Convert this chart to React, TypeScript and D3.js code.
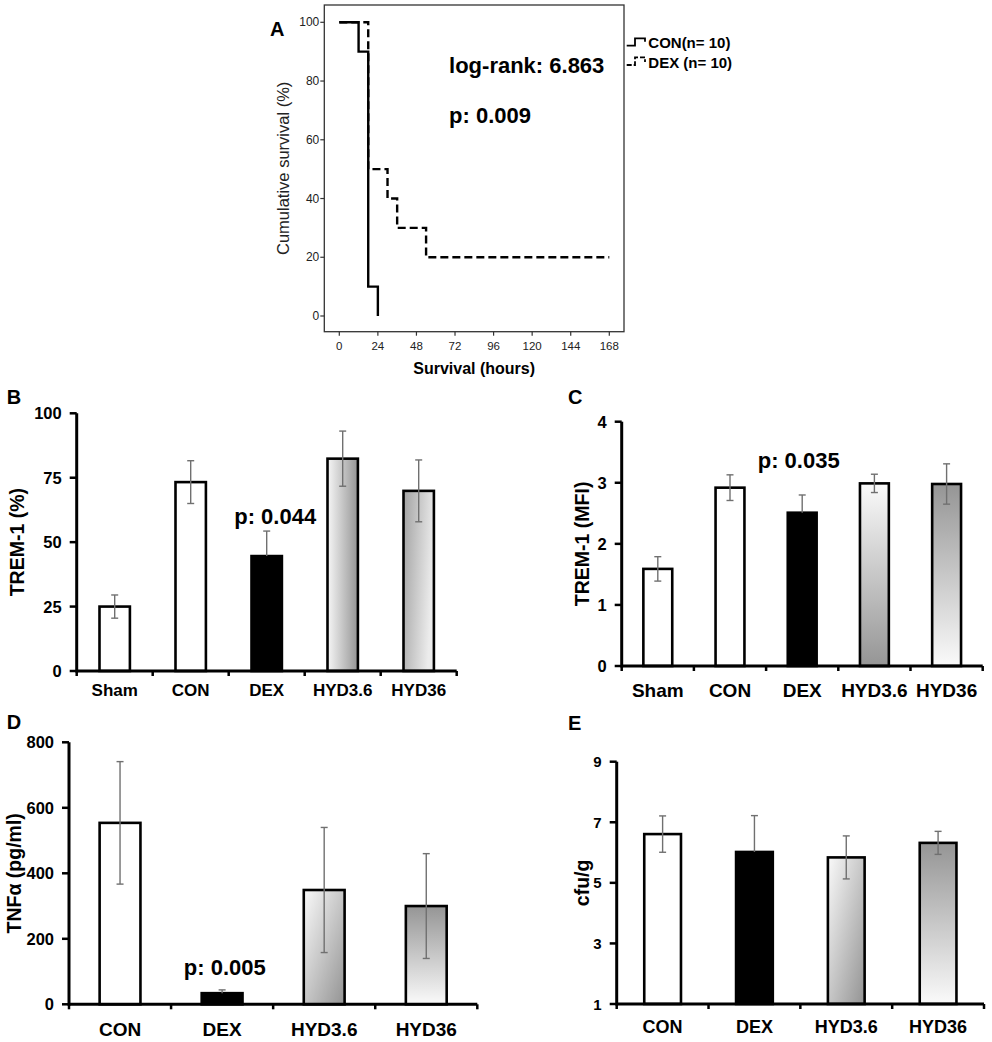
import React from 'react'
import * as d3 from 'd3'

const FONT = '"Liberation Sans", Arial, Helvetica, sans-serif'

// ---- Panel A: survival ----
const survivalTicksX = [0, 24, 48, 72, 96, 120, 144, 168]
const survivalTicksY = [0, 20, 40, 60, 80, 100]
const conSurvival: [number, number][] = [
  [0, 100],
  [12, 90],
  [18, 10],
  [24, 0],
]
const dexSurvival: [number, number][] = [
  [0, 100],
  [18, 50],
  [30, 40],
  [36, 30],
  [54, 20],
  [168, 20],
]
const legendLabels = ['CON(n= 10)', 'DEX (n= 10)']

// ---- Panels B, C ----
const groupsFive = ['Sham', 'CON', 'DEX', 'HYD3.6', 'HYD36']
const trem1Pct = [25, 73.3, 44.6, 82.4, 69.9]
const trem1PctErr = [4.5, 8.3, 9.7, 10.7, 12]
const trem1PctTicks = [0, 25, 50, 75, 100]
const trem1Mfi = [1.59, 2.92, 2.51, 2.99, 2.98]
const trem1MfiErr = [0.2, 0.21, 0.29, 0.15, 0.33]
const trem1MfiTicks = [0, 1, 2, 3, 4]

// ---- Panels D, E ----
const groupsFour = ['CON', 'DEX', 'HYD3.6', 'HYD36']
const tnfa = [554, 34, 349, 300]
const tnfaErr = [187, 10, 191, 160]
const tnfaTicks = [0, 200, 400, 600, 800]
const cfu = [6.61, 6.02, 5.84, 6.32]
const cfuErr = [0.6, 1.2, 0.71, 0.38]
const cfuTicks = [1, 3, 5, 7, 9]

interface BarPanelProps {
  letter: string
  letterPos: [number, number]
  categories: string[]
  values: number[]
  errors: number[]
  fills: string[]
  xRange: [number, number]
  yDomain: [number, number]
  yRange: [number, number]
  ticks: number[]
  yTitle: string
  yTitleX: number
  tickFont: number
  catFont: number
  catY: number
  pText?: string
  pCat?: string
  pValue?: number
  pDx?: number
}

const BarPanel: React.FC<BarPanelProps> = (p) => {
  const x = d3.scaleBand().domain(p.categories).range(p.xRange).padding(0)
  const y = d3.scaleLinear().domain(p.yDomain).range(p.yRange)
  const bw = x.bandwidth() * 0.4
  const base = y(p.yDomain[0])
  const top = y(p.yDomain[1])
  const boundaries = [...p.categories.map((c) => x(c)!), p.xRange[1]]
  const midY = (base + top) / 2

  return (
    <g fontFamily={FONT} fontWeight="bold">
      <text x={p.letterPos[0]} y={p.letterPos[1]} fontSize={20} dominantBaseline="central">
        {p.letter}
      </text>
      <text
        transform={`translate(${p.yTitleX},${midY}) rotate(-90)`}
        textAnchor="middle"
        dominantBaseline="central"
        fontSize={19.5}
      >
        {p.yTitle}
      </text>
      {/* bars */}
      {p.categories.map((c, i) => {
        const cx = x(c)! + x.bandwidth() / 2
        return (
          <rect
            key={c}
            x={cx - bw / 2}
            y={y(p.values[i])}
            width={bw}
            height={base - y(p.values[i])}
            fill={p.fills[i]}
            stroke="#000"
            strokeWidth={2.6}
          />
        )
      })}
      {/* error bars */}
      {p.categories.map((c, i) => {
        const cx = x(c)! + x.bandwidth() / 2
        const hi = y(p.values[i] + p.errors[i])
        const lo = p.fills[i] === '#000' ? y(p.values[i]) : y(p.values[i] - p.errors[i])
        return (
          <g key={c} stroke="#707070" strokeWidth={1.4}>
            <line x1={cx} x2={cx} y1={hi} y2={lo} />
            <line x1={cx - 3.5} x2={cx + 3.5} y1={hi} y2={hi} />
            {p.fills[i] !== '#000' && <line x1={cx - 3.5} x2={cx + 3.5} y1={lo} y2={lo} />}
          </g>
        )
      })}
      {/* y axis */}
      <line x1={p.xRange[0]} x2={p.xRange[0]} y1={top} y2={base + 1.5} stroke="#000" strokeWidth={3} />
      {p.ticks.map((t) => (
        <g key={t}>
          <line x1={p.xRange[0] - 7} x2={p.xRange[0]} y1={y(t)} y2={y(t)} stroke="#000" strokeWidth={2.5} />
          <text
            x={p.xRange[0] - 15}
            y={y(t)}
            textAnchor="end"
            dominantBaseline="central"
            fontSize={p.tickFont}
          >
            {t}
          </text>
        </g>
      ))}
      {/* x axis */}
      <line x1={p.xRange[0]} x2={p.xRange[1]} y1={base} y2={base} stroke="#000" strokeWidth={3} />
      {boundaries.map((b, i) => (
        <line key={i} x1={b} x2={b} y1={base} y2={base + 5} stroke="#000" strokeWidth={2.5} />
      ))}
      {p.categories.map((c) => (
        <text
          key={c}
          x={x(c)! + x.bandwidth() / 2}
          y={p.catY}
          textAnchor="middle"
          dominantBaseline="central"
          fontSize={p.catFont}
        >
          {c}
        </text>
      ))}
      {p.pText && p.pCat && p.pValue !== undefined && (
        <text
          x={x(p.pCat)! + x.bandwidth() / 2 + (p.pDx || 0)}
          y={y(p.pValue)}
          textAnchor="middle"
          fontSize={22}
        >
          {p.pText}
        </text>
      )}
    </g>
  )
}

const SurvivalPanel: React.FC = () => {
  const x = d3.scaleLinear().domain([0, 168]).range([339.3, 609.3])
  const y = d3.scaleLinear().domain([0, 100]).range([316, 22.3])
  const line = d3
    .line<[number, number]>()
    .x((d) => x(d[0]))
    .y((d) => y(d[1]))
    .curve(d3.curveStepAfter)
  const frame = { x0: 324.3, x1: 624, y0: 5, y1: 331.7 }

  return (
    <g fontFamily={FONT}>
      <text x={270} y={29} fontSize={20} fontWeight="bold" dominantBaseline="central">
        A
      </text>
      <rect
        x={frame.x0}
        y={frame.y0}
        width={frame.x1 - frame.x0}
        height={frame.y1 - frame.y0}
        fill="none"
        stroke="#333"
        strokeWidth={1.3}
      />
      {survivalTicksY.map((t) => (
        <g key={t}>
          <line x1={frame.x0 - 4} x2={frame.x0} y1={y(t)} y2={y(t)} stroke="#333" strokeWidth={1.2} />
          <text x={frame.x0 - 5} y={y(t)} textAnchor="end" dominantBaseline="central" fontSize={12} fill="#222">
            {t}
          </text>
        </g>
      ))}
      {survivalTicksX.map((t) => (
        <g key={t}>
          <line x1={x(t)} x2={x(t)} y1={frame.y1} y2={frame.y1 + 4} stroke="#333" strokeWidth={1.2} />
          <text x={x(t)} y={346} textAnchor="middle" dominantBaseline="central" fontSize={11.5} fill="#222">
            {t}
          </text>
        </g>
      ))}
      <text
        transform={`translate(283,${(frame.y0 + frame.y1) / 2}) rotate(-90)`}
        textAnchor="middle"
        dominantBaseline="central"
        fontSize={16.5}
        fill="#222"
      >
        Cumulative survival (%)
      </text>
      <text x={(frame.x0 + frame.x1) / 2} y={368} textAnchor="middle" dominantBaseline="central" fontSize={16} fontWeight="bold">
        Survival (hours)
      </text>
      <path d={line(conSurvival)!} fill="none" stroke="#000" strokeWidth={2.4} />
      <path d={line(dexSurvival)!} fill="none" stroke="#000" strokeWidth={2.4} strokeDasharray="8,4" />
      <text x={x(68.3)} y={y(82.8)} fontSize={22} fontWeight="bold">
        log-rank: 6.863
      </text>
      <text x={x(68.3)} y={y(65.7)} fontSize={22} fontWeight="bold">
        p: 0.009
      </text>
      {/* legend */}
      <path d="M626.7,45.7H635V38.3H645V41.7" fill="none" stroke="#000" strokeWidth={1.8} />
      <path d="M626.7,65H635V57.3H645V62" fill="none" stroke="#000" strokeWidth={1.8} strokeDasharray="5,2" />
      {legendLabels.map((l, i) => (
        <text key={l} x={648.3} y={42.5 + i * 20} dominantBaseline="central" fontSize={15} fontWeight="bold">
          {l}
        </text>
      ))}
    </g>
  )
}

const App: React.FC = () => {
  return (
    <div style={{ position: 'absolute', left: 0, top: 0 }}>
      <svg width={992} height={1042} style={{ display: 'block', background: '#fff' }}>
        <defs>
          <linearGradient id="gH1" x1="0" y1="0" x2="1" y2="0">
            <stop offset="0" stopColor="#f6f6f6" />
            <stop offset="1" stopColor="#959595" />
          </linearGradient>
          <linearGradient id="gH2" x1="0" y1="0" x2="1" y2="0.3">
            <stop offset="0" stopColor="#a2a2a2" />
            <stop offset="1" stopColor="#ececec" />
          </linearGradient>
          <linearGradient id="gV1" x1="0" y1="0" x2="0" y2="1">
            <stop offset="0" stopColor="#fafafa" />
            <stop offset="1" stopColor="#959595" />
          </linearGradient>
          <linearGradient id="gV2" x1="0" y1="0" x2="0" y2="1">
            <stop offset="0" stopColor="#959595" />
            <stop offset="1" stopColor="#fafafa" />
          </linearGradient>
          <linearGradient id="gD1" x1="0" y1="0" x2="1" y2="1">
            <stop offset="0" stopColor="#fafafa" />
            <stop offset="1" stopColor="#939393" />
          </linearGradient>
        </defs>
        <SurvivalPanel />
        <BarPanel
          letter="B"
          letterPos={[6.7, 396.7]}
          categories={groupsFive}
          values={trem1Pct}
          errors={trem1PctErr}
          fills={['#fff', '#fff', '#000', 'url(#gH1)', 'url(#gH2)']}
          xRange={[76.7, 456.7]}
          yDomain={[0, 100]}
          yRange={[671, 413.3]}
          ticks={trem1PctTicks}
          yTitle="TREM-1 (%)"
          yTitleX={16.7}
          tickFont={16.5}
          catFont={17}
          catY={690.5}
          pText="p: 0.044"
          pCat="DEX"
          pValue={56.9}
          pDx={8.5}
        />
        <BarPanel
          letter="C"
          letterPos={[568, 396.7]}
          categories={groupsFive}
          values={trem1Mfi}
          errors={trem1MfiErr}
          fills={['#fff', '#fff', '#000', 'url(#gV1)', 'url(#gV2)']}
          xRange={[621.7, 982.7]}
          yDomain={[0, 4]}
          yRange={[666, 421.7]}
          ticks={trem1MfiTicks}
          yTitle="TREM-1 (MFI)"
          yTitleX={581.7}
          tickFont={16.5}
          catFont={19}
          catY={690}
          pText="p: 0.035"
          pCat="DEX"
          pValue={3.235}
          pDx={-3.5}
        />
        <BarPanel
          letter="D"
          letterPos={[6.7, 722]}
          categories={groupsFour}
          values={tnfa}
          errors={tnfaErr}
          fills={['#fff', '#000', 'url(#gD1)', 'url(#gV2)']}
          xRange={[69, 477.3]}
          yDomain={[0, 800]}
          yRange={[1004.3, 742.3]}
          ticks={tnfaTicks}
          yTitle="TNFα (pg/ml)"
          yTitleX={14}
          tickFont={16.5}
          catFont={19}
          catY={1029}
          pText="p: 0.005"
          pCat="DEX"
          pValue={89}
          pDx={2.7}
        />
        <BarPanel
          letter="E"
          letterPos={[568, 723]}
          categories={groupsFour}
          values={cfu}
          errors={cfuErr}
          fills={['#fff', '#000', 'url(#gD1)', 'url(#gV2)']}
          xRange={[616.7, 984]}
          yDomain={[1, 9]}
          yRange={[1004, 761.7]}
          ticks={cfuTicks}
          yTitle="cfu/g"
          yTitleX={581.7}
          tickFont={15}
          catFont={18}
          catY={1026.7}
        />
      </svg>
    </div>
  )
}

export default App
